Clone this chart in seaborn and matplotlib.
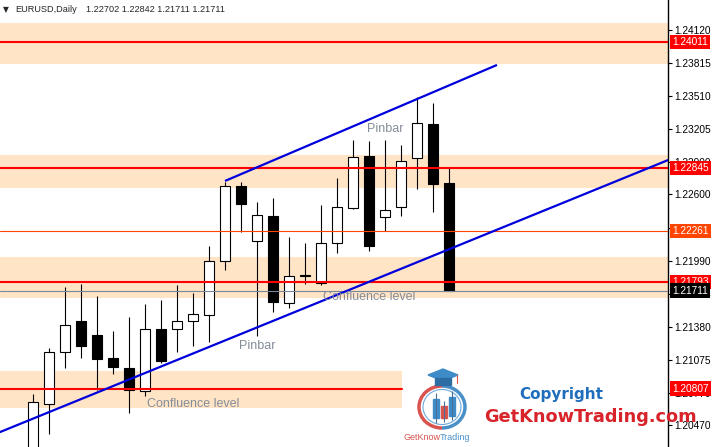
import seaborn as sns
import matplotlib
matplotlib.use('Agg')
from matplotlib import pyplot as plt
from matplotlib import transforms
from matplotlib.patches import Arc, Polygon, Rectangle, Ellipse

# EURUSD daily candles (oldest first)
opens  = [1.20147, 1.20664, 1.21145, 1.21431, 1.21302, 1.21089, 1.20997, 1.20784, 1.21357,
          1.21357, 1.21431, 1.21487, 1.21986, 1.22679, 1.22170, 1.22401, 1.21597, 1.21847,
          1.21782, 1.22152, 1.22475, 1.22956, 1.22392, 1.22485, 1.22937, 1.23251, 1.22702]
highs  = [1.20757, 1.21182, 1.21745, 1.21773, 1.21662, 1.21339, 1.21468, 1.21588, 1.21625,
          1.21764, 1.21690, 1.22124, 1.22716, 1.22716, 1.22531, 1.22568, 1.22207, 1.22152,
          1.22503, 1.22753, 1.23104, 1.23094, 1.23104, 1.23057, 1.23501, 1.23446, 1.22842]
lows   = [1.20054, 1.20387, 1.20997, 1.21089, 1.20794, 1.20941, 1.20581, 1.20738, 1.21043,
          1.21145, 1.21200, 1.21237, 1.21902, 1.22254, 1.21293, 1.21514, 1.21551, 1.21773,
          1.21764, 1.22060, 1.22466, 1.22078, 1.22263, 1.22401, 1.22651, 1.22438, 1.21711]
closes = [1.20683, 1.21145, 1.21394, 1.21200, 1.21080, 1.21006, 1.20794, 1.21357, 1.21062,
          1.21431, 1.21496, 1.21986, 1.22679, 1.22512, 1.22411, 1.21607, 1.21847, 1.21856,
          1.22152, 1.22485, 1.22947, 1.22124, 1.22457, 1.22910, 1.23261, 1.22697, 1.21711]
candle_idx = list(range(len(opens)))

# price scale on the right
tick_values = [1.24120, 1.23815, 1.23510, 1.23205, 1.22900, 1.22600, 1.22295,
               1.21990, 1.21685, 1.21380, 1.21075, 1.20770, 1.20470]
tick_labels = ['1.24120', '1.23815', '1.23510', '1.23205', '1.22900', '1.22600', '1.22295',
               '1.21990', '1.21685', '1.21380', '1.21075', '1.20770', '1.20470']

# support / resistance zones (bottom, top) and their level lines
zones = [(1.23806, 1.24185), (1.22660, 1.22965), (1.21644, 1.22023), (1.20627, 1.20969)]
levels = [1.24011, 1.22845, 1.21793, 1.20807]
level_labels = ['1.24011', '1.22845', '1.21793', '1.20807']
mid_level = 1.22261
bid_level = 1.21711

# trend lines: (candle index, price) anchors
lower_trend_x = [0, 26]
lower_trend_y = [1.20529, 1.22094]
upper_trend_x = [12, 29]
upper_trend_y = [1.22725, 1.23797]

sns.set_style('white')
plt.rcParams['font.family'] = ['Liberation Sans', 'DejaVu Sans']

fig = plt.figure(figsize=(7.16, 4.47), dpi=100)
ax = fig.add_axes([0, 0, 668 / 716, 1])
ax.set_xlim(-2.0625, 39.6875)
ax.set_ylim(1.20267, 1.24397)

band = '#FFE4C6'
for i, (lo, hi) in enumerate(zones):
    # the last zone is hidden under the logo on the right side
    xmax = 402 / 668 if i == 3 else 1
    ax.axhspan(lo, hi, xmax=xmax, color=band, lw=0, zorder=0)

# candles
up = [c >= o for o, c in zip(opens, closes)]
body_lo = [min(o, c) for o, c in zip(opens, closes)]
body_h = [max(abs(c - o), 0.00004) for o, c in zip(opens, closes)]
ax.vlines(candle_idx, lows, highs, color='black', lw=0.8, zorder=2)
ax.bar(candle_idx, body_h, bottom=body_lo, width=0.62,
       color=['white' if u else 'black' for u in up],
       edgecolor='black', linewidth=0.8, zorder=3)

# horizontal levels
for i, lv in enumerate(levels):
    xmax = 402 / 668 if i == 3 else 1
    ax.axhline(lv, xmax=xmax, color='#FF0000', lw=1.5, zorder=4)
ax.axhline(mid_level, color='#FF4500', lw=0.8, zorder=4)
ax.axhline(bid_level, color='#778899', lw=0.8, zorder=4)

# trend lines
ax.axline((lower_trend_x[0], lower_trend_y[0]), (lower_trend_x[1], lower_trend_y[1]),
          color='#0000DD', lw=1.6, zorder=5)
ax.plot(upper_trend_x, upper_trend_y, color='#0000DD', lw=1.6, zorder=5,
        solid_capstyle='butt')

# annotations
note = '#848D9A'
ax.text(18.1, 1.21653, 'Confluence level', color=note, fontsize=9, va='center', zorder=6)
ax.text(7.1, 1.20664, 'Confluence level', color=note, fontsize=9, va='center', zorder=6)
ax.text(20.9, 1.23205, 'Pinbar', color=note, fontsize=9, va='center', zorder=6)
ax.text(12.9, 1.21200, 'Pinbar', color=note, fontsize=9, va='center', zorder=6)

# axes look
for side in ['top', 'left', 'bottom']:
    ax.spines[side].set_visible(False)
ax.spines['right'].set_color('black')
ax.spines['right'].set_linewidth(1)
ax.set_xticks([])
ax.yaxis.tick_right()
ax.set_yticks(tick_values)
ax.set_yticklabels(tick_labels)
ax.tick_params(axis='y', direction='out', length=3, width=0.8, pad=1.5,
               labelsize=7.3, colors='black')
ax.patch.set_facecolor('white')

# price tags on the scale (they sit on top of the scale labels, as in the terminal)
trans = transforms.blended_transform_factory(ax.transAxes, ax.transData)
tag_values = levels + [mid_level, bid_level]
tag_texts = level_labels + ['1.22261', '1.21711']
tag_colors = ['#FF0000'] * 4 + ['#FF4500', 'black']
for v, t, c in zip(tag_values, tag_texts, tag_colors):
    ax.text(1.0065, v, t, transform=trans, color='white', fontsize=7.3, va='center', ha='left',
            zorder=10, clip_on=False,
            bbox=dict(facecolor=c, edgecolor='none', boxstyle='square,pad=0.22'))

# overlay in pixel coords for header and logo
ov = fig.add_axes([0, 0, 1, 1])
ov.set_xlim(0, 716)
ov.set_ylim(447, 0)
ov.axis('off')
ov.patch.set_alpha(0)

ov.text(3, 10, '\u25bc', fontsize=5.5, va='center', ha='left', family='DejaVu Sans')
ov.text(15, 10, 'EURUSD,Daily', fontsize=6.6, va='center', ha='left')
ov.text(86, 10, '1.22702 1.22842 1.21711 1.21711', fontsize=6.6, va='center', ha='left')

ov.text(561, 395, 'Copyright', color='#1F6EBE', fontsize=11, fontweight='bold',
        ha='center', va='center', family='DejaVu Sans')
ov.text(590, 417, 'GetKnowTrading.com', color='#D8232A', fontsize=12.8, fontweight='bold',
        ha='center', va='center', family='DejaVu Sans')

# logo mark
ov.add_patch(Arc((442, 407), 46, 42, theta1=90, theta2=270, color='#D9534F', lw=2.5))
ov.add_patch(Arc((442, 407), 46, 42, theta1=-90, theta2=90, color='#4A90C8', lw=2.5))
ov.add_patch(Ellipse((442, 407), 38, 35, fill=False, color='#6FA8DC', lw=0.8))
ov.vlines([436, 444, 452], [393, 401, 391], [423, 422, 420], color='#4A6F95', lw=0.8)
ov.add_patch(Rectangle((433, 399), 6, 19, color='#3E8CC7'))
ov.add_patch(Rectangle((441, 406), 6, 12, color='#D9534F'))
ov.add_patch(Rectangle((449, 397), 6, 19, color='#3E8CC7'))
ov.add_patch(Polygon([(428, 375), (443, 369), (458, 375), (443, 381)], color='#3E8CC7'))
ov.add_patch(Polygon([(435, 378), (451, 378), (451, 385), (435, 385)], color='#2E6DA4'))
ov.plot([457, 457], [375, 383], color='#D9534F', lw=0.8)
ov.text(440, 438, 'GetKnow', color='#D9534F', fontsize=6.5, ha='right', va='center')
ov.text(440, 438, 'Trading', color='#4A90C8', fontsize=6.5, ha='left', va='center')

fig.savefig('out.png', dpi=100)
